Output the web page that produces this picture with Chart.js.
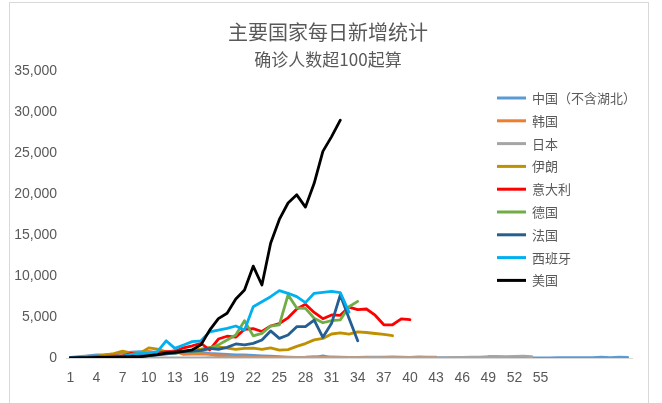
<!DOCTYPE html>
<html>
<head>
<meta charset="utf-8">
<script src="https://cdn.jsdelivr.net/npm/chart.js@4.4.1/dist/chart.umd.min.js"></script>
<style>
  html, body { margin: 0; padding: 0; background: #ffffff; }
  #wrap { position: relative; width: 662px; height: 403px; overflow: hidden; }
  #frame { position: absolute; left: 9px; top: 2px; width: 640px; height: 430px;
           border: 1px solid #D9D9D9; box-sizing: border-box; }
  #c { position: absolute; left: 0; top: 0; }
</style>
</head>
<body>
<div id="wrap">
  <div id="frame"></div>
  <canvas id="c" width="662" height="403"></canvas>
</div>
<script>
// Day index since each country passed 100 confirmed cases (labels stop at 55)
const DAYS = Array.from({ length: 65 }, (_, i) => (i < 55 ? String(i + 1) : ''));

// Daily new confirmed cases per country
const CHINA_EX_HUBEI = [62,154,264,365,398,480,619,705,762,755, 669,726,890,731,707,696,558,509,444,381,
  377,312,267,221,166,115,79,56,45,250, 31,18,11,9,5,24,18,9,3,8,
  20,15,11,20,26,20,25,10,25,12, 20,20,25,16,20,21,39,41,46,46,
  40,100,47,95,85];
const KOREA = [53,100,229,169,231,144,284,505,571,813, 586,599,851,435,467,505,448,272,248,131,
  242,114,110,107,76,74,84,93,152,87, 147,98,64,76,100,104,91,146,105,78, 125,101,89];
const JAPAN = [10,12,6,14,18,25,15,10,8,12, 14,20,12,16,24,20,28,10,30,22,
  15,20,8,12,20,30,28,30,40,25, 50,38,55,40,45,60,28,40,50,45,
  35,45,55,35,70,80,90,100,180,200, 170,200,220,150];
const IRAN = [44,106,143,205,385,523,835,586,591,1234, 1076,743,595,881,958,1075,1289,1365,1209,1053,
  1178,1192,1046,1237,966,1028,1411,1762,2206,2389, 2926,3076,2901,3186,3110,2987,2875,2715];
const ITALY = [78,72,94,147,185,234,239,566,342,466, 587,769,778,1247,1492,1797,977,2313,2651,2547,
  3497,3590,3233,3900,4207,4900,5986,6557,5560,4789, 5249,5210,6203,5909,5974,5217,4050,4053,4782,4668];
const GERMANY = [60,30,40,70,130,180,130,240,140,280, 450,500,600,700,800,850,1180,1600,2200,2800,
  4550,2700,3000,3900,4050,7700,6100,6050,4850,4300, 4550,4650,6250,6900];
const FRANCE = [43,30,61,21,73,138,190,336,177,286, 372,497,595,785,838,924,1180,1060,1300,1710,
  1590,1790,2200,3300,2400,2800,3820,3820,4630,2520, 4230,7680,4850,2100];
const SPAIN = [20,50,35,60,90,110,200,450,570,570, 770,2100,1180,1590,1990,2100,3200,3400,3620,3900,
  3400,6260,6870,7480,8210,7890,7480,6750,7890,8010, 8130,7970,5600];
const USA = [20,30,50,60,70,100,130,180,140,300, 400,600,700,800,1000,1600,3400,4800,5450,7200,
  8300,11200,8900,14000,16900,18900,19900,18400,21300,25200, 27000,29000];

const SERIES_NAMES = ['中国（不含湖北）', '韩国', '日本', '伊朗', '意大利', '德国', '法国', '西班牙', '美国'];
const SERIES_VALUES = [CHINA_EX_HUBEI, KOREA, JAPAN, IRAN, ITALY, GERMANY, FRANCE, SPAIN, USA];
const SERIES_COLORS = ['#5B9BD5', '#ED7D31', '#A5A5A5', '#BF9000', '#FF0000', '#70AD47', '#255E91', '#00B0F0', '#000000'];

const TITLE = '主要国家每日新增统计';
const SUBTITLE = '确诊人数超100起算';

const Y_MAX = 35000;
const Y_STEP = 5000;

const CJK = "'Noto Sans CJK SC', 'Noto Sans', sans-serif";
const NUM = "'Liberation Sans Narrow', 'Liberation Sans', Arial, sans-serif";
const TEXT_COLOR = '#595959';

// Two-line heading centred over the frame
const headerPlugin = {
  id: 'header',
  afterDraw(chart) {
    const ctx = chart.ctx;
    ctx.save();
    ctx.fillStyle = TEXT_COLOR;
    ctx.textAlign = 'center';
    ctx.textBaseline = 'middle';
    ctx.font = '20px ' + CJK;
    ctx.fillText(TITLE, 328, 32);
    ctx.font = '17px ' + CJK;
    ctx.fillText(SUBTITLE, 328, 60);
    ctx.restore();
  }
};

// Legend stacked on the right, overlapping the plot
const sideLegendPlugin = {
  id: 'sideLegend',
  afterDraw(chart) {
    const ctx = chart.ctx;
    ctx.save();
    ctx.font = '13px ' + CJK;
    ctx.textBaseline = 'middle';
    ctx.textAlign = 'left';
    chart.data.datasets.forEach((ds, i) => {
      const y = 98 + i * 22.8;
      ctx.strokeStyle = ds.borderColor;
      ctx.lineWidth = 3;
      ctx.lineCap = 'butt';
      ctx.beginPath();
      ctx.moveTo(497, y);
      ctx.lineTo(526, y);
      ctx.stroke();
      ctx.fillStyle = TEXT_COLOR;
      ctx.fillText(ds.label, 532, y);
    });
    ctx.restore();
  }
};

const datasets = SERIES_NAMES.map((name, i) => ({
  label: name,
  data: SERIES_VALUES[i],
  borderColor: SERIES_COLORS[i],
  backgroundColor: SERIES_COLORS[i],
  borderWidth: 2.8,
  borderJoinStyle: 'round',
  borderCapStyle: 'round',
  pointRadius: 0,
  pointHoverRadius: 0,
  tension: 0,
  fill: false,
  order: SERIES_NAMES.length - i
}));

new Chart(document.getElementById('c'), {
  type: 'line',
  data: { labels: DAYS, datasets },
  options: {
    responsive: false,
    animation: false,
    devicePixelRatio: 1,
    events: [],
    layout: { padding: { top: 71, right: 30, left: 0, bottom: 0 } },
    plugins: {
      legend: { display: false },
      title: { display: false },
      tooltip: { enabled: false }
    },
    scales: {
      x: {
        type: 'category',
        offset: true,
        grid: { display: false, drawTicks: false },
        border: { display: true, color: '#D9D9D9', width: 1 },
        ticks: {
          autoSkip: false,
          maxRotation: 0,
          minRotation: 0,
          padding: 12,
          color: TEXT_COLOR,
          font: { family: NUM, size: 14 },
          callback(value, index) {
            return index % 3 === 0 ? this.getLabelForValue(value) : '';
          }
        },
        afterFit(scale) { scale.height = 45; }
      },
      y: {
        min: 0,
        max: Y_MAX,
        grid: { display: false, drawTicks: false },
        border: { display: false },
        ticks: {
          stepSize: Y_STEP,
          padding: 9,
          color: TEXT_COLOR,
          font: { family: NUM, size: 14 },
          callback: (v) => v.toLocaleString('en-US')
        },
        afterFit(scale) { scale.width = 66; }
      }
    }
  },
  plugins: [headerPlugin, sideLegendPlugin]
});
</script>
</body>
</html>
